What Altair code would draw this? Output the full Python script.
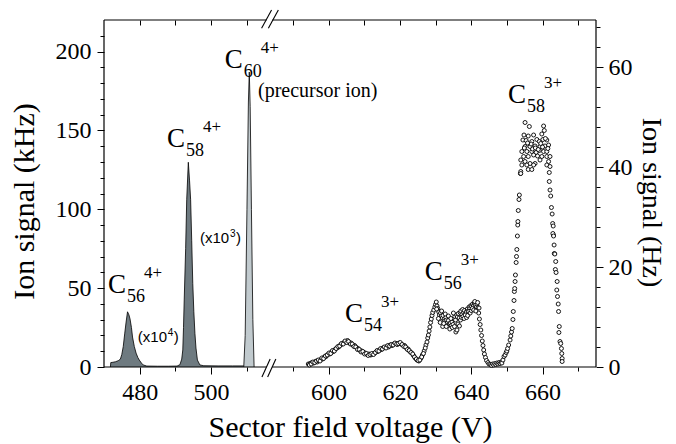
import altair as alt
import pandas as pd

SHIFT = 67.0  # volts removed by the axis break (584 V is drawn right after 517 V)


def disp(v):
    return v if v < 550 else v - SHIFT


# ---------------- data ----------------
# C56(4+) and C58(4+) fragment peaks (kHz), dark grey filled
frag_v = [471.8, 471.9, 472.5, 473.2, 474.0, 474.6, 475.0, 475.4, 475.8, 476.2, 476.6,
          477.0, 477.3, 477.7, 478.0, 478.5, 479.0, 479.5, 479.9, 480.5, 481.0, 482.0,
          485.0, 488.0, 490.5, 491.3, 491.8, 492.1, 492.3, 492.5, 492.9, 493.2, 493.65,
          494.0, 494.3, 494.6, 494.9, 495.2, 495.5, 495.8, 496.2, 496.9, 498.0, 502.0,
          506.0, 509.2]
frag_khz = [0.0, 2.8, 3.0, 3.3, 4.0, 5.0, 8.0, 13.0, 21.0, 28.5, 35.0,
            33.0, 30.5, 25.0, 19.0, 13.0, 8.8, 6.0, 4.4, 2.5, 1.3, 0.6,
            0.5, 0.5, 0.6, 1.5, 5.0, 10.8, 25.0, 42.5, 75.0, 106.0, 129.8,
            118.0, 106.0, 80.0, 53.0, 35.0, 21.4, 12.0, 4.4, 1.3, 0.8, 0.7,
            0.7, 0.7]

# C60(4+) precursor peak (kHz), light grey filled
prec_v = [509.2, 509.6, 510.1, 510.5, 510.75, 511.0, 511.35, 511.75, 512.1]
prec_khz = [0.0, 20.0, 100.0, 168.0, 187.0, 165.0, 100.0, 30.0, 0.0]

# 3+ fragments (Hz), open circles
c54_pts = [
    (594.3, 0.6), (594.8, 0.7), (595.3, 0.9), (595.8, 0.8), (596.3, 1.1), (596.8, 1.0),
    (597.3, 1.3), (597.8, 1.5), (598.3, 1.6), (598.8, 2.0), (599.3, 2.1), (599.8, 2.5),
    (600.3, 2.6), (600.8, 3.0), (601.3, 3.1), (601.8, 3.5), (602.3, 3.8), (602.8, 4.0),
    (603.3, 4.4), (603.8, 4.6), (604.3, 4.9), (604.8, 5.0), (605.3, 5.3), (605.8, 4.9),
    (606.3, 4.8), (606.8, 4.4), (607.3, 4.3), (607.8, 3.9), (608.3, 3.7), (608.8, 3.3),
    (609.3, 3.2), (609.8, 2.9), (610.3, 2.8), (610.8, 2.5), (611.3, 2.6), (611.8, 2.4),
    (612.3, 2.6), (612.8, 2.7), (613.3, 3.0), (613.8, 3.1), (614.3, 3.4), (614.8, 3.5),
    (615.3, 3.8), (615.8, 3.9), (616.3, 4.1), (616.8, 4.0), (617.3, 4.4), (617.8, 4.3),
    (618.3, 4.6), (618.8, 4.7), (619.3, 4.5), (619.8, 4.8), (620.3, 4.6), (620.8, 4.4),
    (621.3, 4.3), (621.8, 3.8), (622.3, 3.6), (622.8, 3.1), (623.3, 2.8), (623.8, 2.3),
    (624.3, 1.8), (624.8, 1.4), (625.3, 1.2), (625.8, 1.7), (626.3, 2.4), (626.8, 3.2),
    (627.3, 4.4), (627.8, 5.8),
    (594.6, 0.4), (595.1, 0.6), (595.6, 1.0), (596.1, 0.9), (596.6, 1.2), (597.1, 1.4),
    (597.6, 1.2), (598.1, 1.8), (598.6, 1.7), (599.1, 2.2), (599.6, 2.4), (600.1, 2.8),
    (600.6, 2.7), (601.1, 3.3), (601.6, 3.2), (602.1, 3.7), (602.6, 4.1), (603.1, 4.2),
    (603.6, 4.7), (604.1, 4.6), (604.6, 5.2), (605.1, 4.9), (605.6, 5.1), (606.1, 4.6),
    (606.6, 4.6), (607.1, 4.1), (607.6, 4.0), (608.1, 3.5), (608.6, 3.5), (609.1, 3.0),
    (609.6, 3.1), (610.1, 2.6), (610.6, 2.7), (611.1, 2.3), (611.6, 2.5), (612.1, 2.7),
    (612.6, 2.5), (613.1, 2.9), (613.6, 3.3), (614.1, 3.2), (614.6, 3.7), (615.1, 3.6),
    (615.6, 4.0), (616.1, 3.8), (616.6, 4.3), (617.1, 4.2), (617.6, 4.5), (618.1, 4.4),
    (618.6, 4.8), (619.1, 4.6), (619.6, 4.7), (620.1, 4.9), (620.6, 4.5), (621.1, 4.1),
    (621.6, 4.0), (622.1, 3.5), (622.6, 3.3), (623.1, 2.9), (623.6, 2.6), (624.1, 2.0),
    (624.6, 1.6), (625.1, 1.3), (625.6, 1.4), (626.1, 2.0), (626.6, 2.7), (627.1, 3.8),
    (627.6, 5.0),
]
c56_pts = [
    (628.0, 6.4), (628.2, 7.2), (628.4, 8.0), (628.6, 8.9), (628.8, 9.6), (629.0, 10.3),
    (629.2, 10.9), (629.5, 11.4), (629.8, 12.0), (630.0, 12.5), (630.2, 13.0), (630.4, 12.2),
    (630.6, 11.7), (630.9, 11.0), (631.1, 10.4), (631.4, 10.8), (631.6, 10.2), (631.9, 9.8),
    (632.1, 10.3), (632.4, 9.6), (632.6, 9.2), (632.9, 9.9), (633.1, 9.4), (633.4, 8.9),
    (633.6, 9.3), (633.9, 8.6), (634.1, 8.8), (634.4, 8.3), (634.6, 9.0), (634.9, 8.5),
    (635.1, 9.6), (635.4, 10.1), (635.6, 9.4), (635.9, 10.4), (636.1, 10.0), (636.4, 10.7),
    (636.6, 9.8), (636.9, 10.9), (637.1, 11.2), (637.4, 10.5), (637.6, 11.5), (637.9, 10.9),
    (638.1, 11.3), (638.4, 10.6), (638.6, 11.0), (638.9, 11.6), (639.1, 11.2), (639.4, 12.0),
    (639.6, 11.7), (639.9, 12.3), (640.1, 12.1), (640.4, 12.6), (640.6, 12.2), (640.9, 12.8),
    (641.1, 12.4), (641.4, 12.0), (641.6, 12.6), (641.9, 11.9), (642.1, 10.8), (642.3, 9.6),
    (642.5, 8.5), (642.7, 7.4), (642.9, 6.3), (643.1, 5.2), (643.3, 4.3), (643.5, 3.4),
    (643.7, 2.6), (644.0, 1.9), (644.3, 1.3), (644.7, 0.9), (645.0, 0.6), (645.4, 0.5),
    (645.7, 0.3), (646.0, 0.6), (646.3, 0.4), (646.6, 0.7), (646.9, 0.5), (647.2, 0.8),
    (647.5, 0.6), (647.8, 0.9), (648.1, 0.7), (648.4, 1.0),
    (630.3, 11.6), (630.8, 9.7), (631.3, 8.9), (631.7, 11.2), (632.0, 8.1), (632.3, 8.7),
    (632.7, 10.6), (633.0, 8.1), (633.6, 10.2), (634.0, 7.6), (634.3, 9.7), (634.7, 7.9),
    (635.0, 10.8), (635.3, 8.1), (635.7, 7.0), (636.0, 7.4), (636.3, 8.6), (636.7, 8.2),
    (637.0, 9.4), (637.3, 9.9), (637.7, 10.1), (638.0, 9.7), (638.3, 10.4), (638.7, 9.9),
    (639.0, 10.3), (639.3, 11.1), (639.7, 10.8), (640.0, 11.3), (640.3, 11.7), (640.7, 11.4),
    (641.0, 13.1), (641.3, 11.2), (641.8, 12.9), (642.2, 11.8),
]
c58_pts = [
    (648.6, 0.8), (648.9, 1.4), (649.2, 2.1), (649.5, 2.4), (649.8, 2.9), (650.0, 3.2),
    (650.2, 3.7), (650.5, 4.4), (650.9, 5.4), (651.1, 6.2), (651.3, 7.0), (651.5, 7.7),
    (651.7, 9.5), (651.8, 11.1), (652.0, 13.3), (652.1, 15.1), (652.2, 15.7), (652.3, 17.1),
    (652.4, 18.4), (652.6, 20.9), (652.7, 22.1), (652.8, 23.5), (652.95, 26.2), (653.05, 28.4),
    (653.1, 29.1), (653.2, 31.3), (653.4, 33.5), (653.5, 34.4), (653.8, 38.7), (653.9, 39.1),
    (655.1, 48.9), (656.3, 48.1), (660.3, 48.2), (654.8, 46.4), (656.0, 46.2), (657.5, 46.4),
    (659.8, 46.6), (660.5, 47.3), (654.5, 45.4), (655.4, 45.3), (657.0, 45.1), (658.4, 45.5),
    (659.1, 45.1), (660.1, 45.5), (661.2, 45.4), (655.1, 44.1), (656.5, 44.1), (657.9, 44.2),
    (659.3, 44.1), (660.7, 44.2), (661.7, 44.4), (654.2, 43.1), (655.6, 43.1), (657.0, 43.1),
    (658.2, 42.9), (659.1, 43.3), (660.3, 43.1), (661.2, 43.1), (654.7, 42.1), (656.0, 42.1),
    (657.5, 42.4), (658.6, 42.2), (659.8, 42.1), (661.2, 42.1), (662.1, 42.1), (653.9, 41.4),
    (655.1, 41.1), (656.5, 40.7), (657.9, 40.7), (659.3, 41.4), (661.7, 41.1), (654.2, 40.4),
    (655.6, 40.4), (657.5, 40.4), (661.2, 40.4), (656.0, 39.5), (657.0, 39.5), (653.9, 38.7),
    (661.9, 38.9), (662.1, 40.1), (656.8, 44.6), (657.2, 43.6), (658.0, 43.8), (658.8, 43.5),
    (659.5, 44.7), (660.0, 44.0), (660.8, 45.7), (655.8, 44.8), (654.9, 43.8), (661.5, 43.7),
    (661.9, 37.1), (662.1, 35.4), (662.3, 34.2), (662.5, 31.9), (662.7, 30.6), (662.85, 28.7),
    (663.0, 28.2), (663.05, 26.4), (662.9, 26.7), (663.1, 26.2), (663.25, 24.4), (663.3, 22.7),
    (663.45, 22.6), (663.7, 21.1), (663.6, 19.5), (663.8, 18.9), (664.1, 17.1), (664.0, 15.4),
    (664.2, 14.1), (664.4, 12.6), (664.5, 11.1), (664.7, 8.1), (664.6, 6.9), (664.9, 5.1),
    (665.1, 4.7), (665.3, 3.7), (665.4, 2.7), (665.5, 1.7), (665.5, 1.1),
]

# axis ticks (true volts / kHz / Hz)
x_ticks = [480, 490, 500, 510, 590, 600, 610, 620, 630, 640, 650, 660, 670]
khz_ticks = list(range(0, 220, 10))
hz_ticks = list(range(0, 69, 4))

# ion labels: C_n^q  (anchor in true volts, kHz)
ion_v = [471.1, 487.7, 503.9, 604.6, 627.0, 650.3]
ion_khz = [46.9, 139.5, 189.6, 28.7, 55.2, 167.4]
ion_n = ["56", "58", "60", "54", "56", "58"]
ion_q = ["4+", "4+", "4+", "3+", "3+", "3+"]

# scale-factor notes "(x10^k)"
note_v = [479.5, 496.9]
note_khz = [16.0, 78.6]
note_exp = ["4", "3"]

precursor_text = "(precursor ion)"
precursor_v = 513.2
precursor_khz = 171.2

# ---------------- frames ----------------
SERIF = "'Liberation Serif', 'Times New Roman', Times, 'DejaVu Serif', serif"
SANS = "'Liberation Sans', Arial, Helvetica, sans-serif"
DARK = "#6e7a80"
LIGHT = "#c1cace"

frag_df = pd.DataFrame({"x": [disp(v) for v in frag_v], "khz": frag_khz})
prec_df = pd.DataFrame({"x": [disp(v) for v in prec_v], "khz": prec_khz})
pts = c54_pts + c56_pts + c58_pts
scan_df = pd.DataFrame({"x": [disp(p[0]) for p in pts], "hz": [p[1] for p in pts]})
ion_df = pd.DataFrame({"x": [disp(v) for v in ion_v], "khz": ion_khz, "n": ion_n, "q": ion_q})
note_df = pd.DataFrame({"x": note_v, "khz": note_khz, "e": note_exp})
prec_lab_df = pd.DataFrame({"x": [precursor_v], "khz": [precursor_khz], "t": [precursor_text]})

# plot frame with the axis break gap, and the "//" break marks
frame_df = pd.DataFrame({
    "x": [470, 517.2, 470, 517.2, 470, 608],
    "x2": [515.6, 608, 515.6, 608, 470, 608],
    "khz": [0, 0, 220, 220, 0, 0],
    "khz2": [0, 0, 220, 220, 220, 220],
})
slash_df = pd.DataFrame({
    "x": [514.3, 515.9, 514.2, 516.1],
    "x2": [516.6, 518.2, 517.0, 518.9],
    "khz": [-6.3, -6.3, 214.8, 214.8],
    "khz2": [5.1, 5.1, 226.4, 226.4],
})

true_expr = "(datum.value >= 517 ? datum.value + 67 : datum.value)"
xscale = alt.Scale(domain=[470, 608], nice=False, zero=False)

bottom_axis = alt.Axis(
    orient="bottom", values=[disp(v) for v in x_ticks],
    labelExpr=f"{true_expr} % 20 == 0 ? '' + {true_expr} : ''",
    tickSize={"condition": {"test": f"{true_expr} % 20 == 0", "value": 7}, "value": 4},
    tickColor="black", tickWidth=1, domain=False, grid=False,
    labelFont=SERIF, labelFontSize=24, labelColor="black", labelPadding=6,
    labelFlush=False, labelOverlap=False,
    title="Sector field voltage (V)", titleFont=SERIF, titleFontSize=30,
    titleFontWeight="normal", titleColor="black", titleY=69, titleBaseline="alphabetic",
)
top_axis = alt.Axis(
    orient="top", values=[disp(v) for v in x_ticks], labels=False, tickSize=5,
    offset=-5, tickColor="black", tickWidth=1, domain=False, grid=False, title=None,
)
left_axis = alt.Axis(
    orient="left", values=khz_ticks,
    labelExpr="datum.value % 50 == 0 ? datum.label : ''",
    tickSize={"condition": {"test": "datum.value % 50 == 0", "value": 7}, "value": 4},
    tickColor="black", tickWidth=1, domain=False, grid=False,
    labelFont=SERIF, labelFontSize=24, labelColor="black", labelPadding=6,
    labelFlush=False, labelOverlap=False,
    title="Ion signal (kHz)", titleFont=SERIF, titleFontSize=30, titleFontWeight="normal",
    titleColor="black", titleAngle=-90, titleX=-71, titleY=181,
    titleBaseline="alphabetic", titleAlign="center",
)
right_axis = alt.Axis(
    orient="right", values=hz_ticks,
    labelExpr="datum.value % 20 == 0 ? datum.label : ''",
    tickSize={"condition": {"test": "datum.value % 20 == 0", "value": 7}, "value": 4},
    tickColor="black", tickWidth=1, domain=False, grid=False,
    labelFont=SERIF, labelFontSize=24, labelColor="black", labelPadding=5,
    labelFlush=False, labelOverlap=False,
    title="Ion signal (Hz)", titleFont=SERIF, titleFontSize=28, titleFontWeight="normal",
    titleColor="black", titleAngle=90, titleX=46, titleY=182,
    titleBaseline="alphabetic", titleAlign="center",
)

xb = alt.X("x:Q", scale=xscale, axis=bottom_axis)
yk = alt.Y("khz:Q", scale=alt.Scale(domain=[0, 220], nice=False, zero=False), axis=left_axis)

area_dark = alt.Chart(frag_df).mark_area(color=DARK, opacity=1).encode(x=xb, y=yk)
line_dark = alt.Chart(frag_df).mark_line(color="black", strokeWidth=0.8).encode(x=xb, y=yk)
area_light = alt.Chart(prec_df).mark_area(color=LIGHT, opacity=1).encode(x=xb, y=yk)
line_light = alt.Chart(prec_df).mark_line(color="black", strokeWidth=0.8).encode(x=xb, y=yk)

frame = alt.Chart(frame_df).mark_rule(color="black", strokeWidth=1.2).encode(
    x=xb, x2="x2:Q", y=yk, y2="khz2:Q")
slashes = alt.Chart(slash_df).mark_rule(color="black", strokeWidth=1.1).encode(
    x=xb, x2="x2:Q", y=yk, y2="khz2:Q")

ion_c = alt.Chart(ion_df).mark_text(
    text="C", font=SERIF, fontSize=27, align="left", baseline="alphabetic", color="black"
).encode(x=xb, y=yk)
ion_sub = alt.Chart(ion_df).mark_text(
    font=SERIF, fontSize=18, align="left", baseline="alphabetic", color="black", dx=19, dy=9
).encode(x=xb, y=yk, text="n:N")
ion_sup = alt.Chart(ion_df).mark_text(
    font=SERIF, fontSize=17, align="left", baseline="alphabetic", color="black", dx=36, dy=-15
).encode(x=xb, y=yk, text="q:N")

note_main = alt.Chart(note_df).mark_text(
    text="(x10", font=SANS, fontSize=15, align="left", baseline="alphabetic", color="black"
).encode(x=xb, y=yk)
note_exp_t = alt.Chart(note_df).mark_text(
    font=SANS, fontSize=10, align="left", baseline="alphabetic", color="black", dx=30, dy=-6
).encode(x=xb, y=yk, text="e:N")
note_close = alt.Chart(note_df).mark_text(
    text=")", font=SANS, fontSize=15, align="left", baseline="alphabetic", color="black", dx=36
).encode(x=xb, y=yk)

prec_lab = alt.Chart(prec_lab_df).mark_text(
    font=SERIF, fontSize=20, align="left", baseline="alphabetic", color="black"
).encode(x=xb, y=yk, text="t:N")

khz_group = alt.layer(area_dark, area_light, line_dark, line_light, frame, slashes,
                      ion_c, ion_sub, ion_sup, note_main, note_exp_t, note_close, prec_lab)

xt = alt.X("x:Q", scale=xscale, axis=top_axis)
yh = alt.Y("hz:Q", scale=alt.Scale(domain=[0, 69.4], nice=False, zero=False), axis=right_axis)
points = alt.Chart(scan_df).mark_point(
    shape="circle", filled=True, fill="white", stroke="black", strokeWidth=0.9,
    size=16, opacity=1
).encode(x=xt, y=yh)

chart = alt.layer(khz_group, points).resolve_scale(y="independent").resolve_axis(
    x="independent"
).properties(
    width=492, height=347,
    autosize=alt.AutoSizeParams(type="none"),
    padding={"left": 96, "top": 12, "right": 72, "bottom": 77},
    background="white",
).configure_view(stroke="transparent")

chart.save("out.html", embed_options={"renderer": "svg", "actions": False})
